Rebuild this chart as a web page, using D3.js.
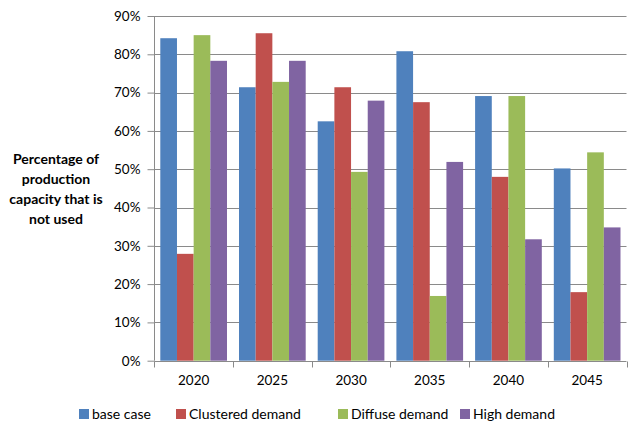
<!DOCTYPE html>
<html><head><meta charset="utf-8">
<script src="https://cdn.jsdelivr.net/npm/d3@7"></script>
<style>body{margin:0;background:#fff;} svg{display:block;}</style>
</head><body>
<svg id="c" width="631" height="423"></svg>
<script>
const categories = ["2020","2025","2030","2035","2040","2045"];
const seriesNames = ["base case","Clustered demand","Diffuse demand","High demand"];
const baseCase = [84.2, 71.4, 62.5, 80.8, 69.1, 50.2];
const clustered = [27.9, 85.5, 71.4, 67.5, 48.0, 17.9];
const diffuse = [85.0, 72.8, 49.3, 16.9, 69.1, 54.4];
const high = [78.3, 78.3, 67.9, 51.9, 31.7, 34.8];
const yTicks = [0,10,20,30,40,50,60,70,80,90];
const colors = ["#4F81BD","#C0504D","#9BBB59","#8064A2"];
const seriesValues = [baseCase, clustered, diffuse, high];

const svg = d3.select("#c");
const font = "Lato, 'Open Sans', sans-serif";
const pLeft = 154.3, pRight = 626.5, pTop = 16, pBottom = 360.7;

const x = d3.scaleBand().domain(categories).range([pLeft, pRight]).paddingInner(0).paddingOuter(0);
const x1 = d3.scaleBand().domain(seriesNames).range([0, x.bandwidth()]).paddingOuter(0.36).paddingInner(0);
const y = d3.scaleLinear().domain([0, 90]).range([pBottom, pTop]);

// gridlines
svg.append("g").selectAll("line").data(yTicks.filter(d => d > 0)).join("line")
  .attr("x1", pLeft).attr("x2", pRight)
  .attr("y1", d => Math.round(y(d)) + 0.5).attr("y2", d => Math.round(y(d)) + 0.5)
  .attr("stroke", "#8a8a8a").attr("stroke-width", 1);

// bars
const groups = svg.append("g").selectAll("g").data(categories).join("g")
  .attr("transform", d => `translate(${x(d)},0)`);
groups.selectAll("rect").data((c, i) => seriesNames.map((s, j) => ({s, j, v: seriesValues[j][i]}))).join("rect")
  .attr("x", d => x1(d.s)).attr("width", x1.bandwidth())
  .attr("y", d => y(d.v)).attr("height", d => y(0) - y(d.v))
  .attr("fill", d => colors[d.j]);

// y axis
const yAxis = d3.axisLeft(y).tickValues(yTicks).tickFormat(d => d + "%").tickSize(7).tickPadding(7);
const ya = svg.append("g").attr("transform", `translate(${Math.round(pLeft)+0.5},0)`).call(yAxis);
ya.select(".domain").attr("stroke", "#8a8a8a").attr("d", `M0,${pTop}V${pBottom}`);
ya.selectAll(".tick line").attr("stroke", "#8a8a8a");
ya.selectAll(".tick text").attr("font-family", font).attr("font-size", 13.5).attr("fill", "#000");

// x axis
const xa = svg.append("g").attr("transform", `translate(0,${Math.round(pBottom)+0.5})`)
  .call(d3.axisBottom(x).tickSize(0).tickPadding(14));
xa.select(".domain").attr("stroke", "#8a8a8a").attr("d", `M${pLeft},0H${pRight}`);
xa.selectAll(".tick text").attr("font-family", font).attr("font-size", 13.5).attr("fill", "#000");
xa.append("g").selectAll("line").data(d3.range(categories.length + 1)).join("line")
  .attr("x1", i => Math.round(pLeft + i * x.bandwidth()) + 0.5)
  .attr("x2", i => Math.round(pLeft + i * x.bandwidth()) + 0.5)
  .attr("y1", 0).attr("y2", 6).attr("stroke", "#8a8a8a");

// y title
const titleLines = ["Percentage of","production","capacity that is","not used"];
svg.append("text").attr("font-family", font).attr("font-size", 14).attr("font-weight", "bold")
  .attr("text-anchor", "middle")
  .selectAll("tspan").data(titleLines).join("tspan")
  .attr("x", 56).attr("y", (d, i) => 164 + i * 20).text(d => d);

// legend
const legendX = [79, 176, 338, 460];
const lg = svg.append("g").selectAll("g").data(seriesNames).join("g")
  .attr("transform", (d, i) => `translate(${legendX[i]},0)`);
lg.append("rect").attr("x", 0).attr("y", 409).attr("width", 10).attr("height", 10)
  .attr("fill", (d, i) => colors[i]);
lg.append("text").attr("x", 13).attr("y", 419).attr("font-family", font).attr("font-size", 14)
  .attr("fill", "#000").text(d => d);
</script>
</body></html>
